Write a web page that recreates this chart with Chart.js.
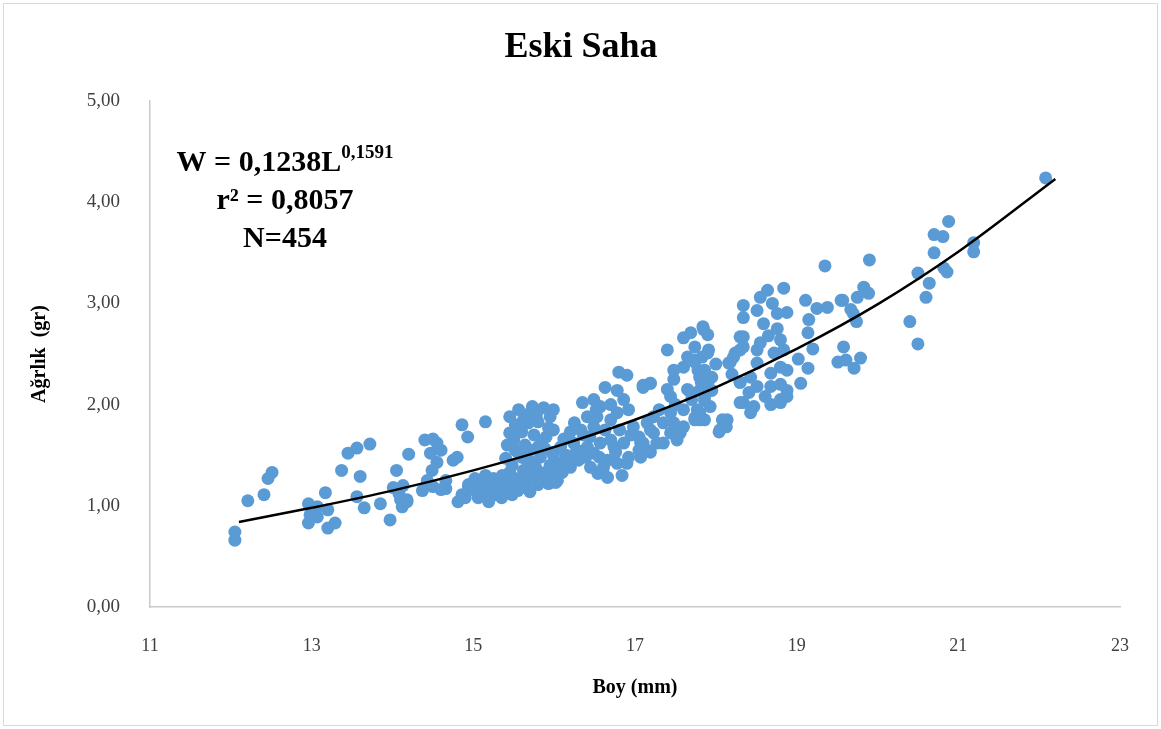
<!DOCTYPE html>
<html>
<head>
<meta charset="utf-8">
<script src="https://cdn.jsdelivr.net/npm/chart.js@4"></script>
<style>
    body { margin: 0; background: #fff; }
</style>
</head>
<body>
<canvas id="eskiChart" width="1161" height="729"></canvas>
<script>
// Boy (mm) / Ağırlık (gr) values
const boy = [
    12.05, 12.05, 12.21, 12.41, 12.46, 12.51, 12.96, 13.07, 12.98, 12.96, 13.07, 13.17, 13.20, 13.20, 13.29, 13.37,
    13.45, 13.56, 13.72, 13.60, 13.56, 13.65, 13.85, 13.97, 14.05, 14.20, 14.01, 14.10, 14.18, 14.12, 14.13, 14.08,
    14.40, 14.50, 14.47, 14.60, 14.55, 14.49, 14.43, 14.50, 14.60, 14.66, 14.75,
    14.80, 14.86, 14.93, 15.15, 14.86, 14.94, 14.37, 14.55, 14.66, 14.18,
    14.94, 14.86, 15.02, 15.11, 15.19, 15.27, 15.36, 15.40, 15.48, 15.56, 15.60, 15.73, 15.80, 15.89,
    15.98, 16.02, 16.10, 14.90, 15.06, 15.19, 15.00, 14.81, 15.06, 15.14, 15.22, 15.30, 15.33, 15.44,
    15.52, 15.66, 15.70, 15.84, 15.93, 15.25, 15.15, 15.45, 15.62, 15.77, 15.95, 15.10, 15.35, 15.55,
    15.56, 15.73, 15.87, 15.52, 15.60, 15.80, 15.93, 15.42, 15.64, 15.85, 15.40, 15.60, 15.89, 15.99,
    15.73, 15.98, 16.10, 15.65, 15.50, 15.75, 15.48, 15.55, 15.70, 15.83, 15.95, 15.62, 15.45,
    15.45, 15.58, 15.68, 15.78, 15.90, 15.52, 15.66, 15.80,
    15.99, 16.80, 16.90, 17.10, 17.19, 16.63, 16.78, 16.35, 16.49, 16.57, 16.86, 16.92, 16.41, 16.53,
    16.70, 16.78, 16.33, 16.49, 16.63, 16.81, 15.99, 16.20, 16.98, 17.19, 17.07, 17.19, 17.27, 16.86,
    16.74, 16.57, 16.41, 16.24, 16.08, 15.99, 16.19, 16.39, 16.56, 16.76, 16.92, 17.07, 16.04, 16.20,
    16.45, 16.61, 16.78, 16.54, 16.04, 16.60, 16.90, 16.49, 16.30, 16.15, 16.70, 16.95, 16.25, 16.66,
    16.12, 16.28, 16.44, 16.66, 16.84, 16.36, 16.52, 16.70,
    17.84, 17.90, 17.60, 17.69, 17.40, 18.30, 18.34, 18.24, 18.18, 17.90, 17.65, 17.74, 17.60, 17.78,
    17.48, 17.48, 17.19, 17.10, 17.40, 17.44, 17.65, 17.82, 17.95, 17.87, 17.69, 18.30, 18.34, 17.93,
    17.77, 17.60, 17.44, 17.23, 17.15, 17.35, 17.48, 17.74, 17.80, 17.60, 17.05, 17.23, 17.44, 17.56,
    17.10, 17.35, 17.52, 17.15, 17.05, 18.08, 18.13, 18.04, 17.86, 18.00, 17.30, 17.50, 17.70, 18.20,
    19.83, 19.75, 19.55, 19.38, 19.11, 19.15, 19.14, 19.14, 19.05, 19.58, 19.51, 19.61, 19.71, 19.79, 19.67,
    18.84, 18.64, 18.55, 18.34, 18.34, 18.51, 18.70, 18.76, 18.88, 18.59, 18.76, 18.65, 18.55, 18.34,
    18.80, 18.84, 18.72, 18.51, 18.30, 18.22, 18.16, 18.51, 18.80, 18.88, 18.43, 18.68, 18.30, 18.51,
    18.68, 18.80, 18.88, 18.41, 18.61, 18.80, 18.88, 18.30, 18.47, 18.68, 18.80, 18.43, 18.14, 18.05,
    17.85, 17.74, 17.83, 17.91, 17.74, 17.86, 17.80, 17.91, 17.80, 17.95, 17.86, 17.80, 17.86, 17.74,
    22.08, 20.88, 20.70, 20.81, 20.70, 21.19, 21.19, 20.50, 20.82, 20.86, 20.64, 20.60, 20.40, 20.50,
    19.90, 19.89, 19.57, 19.70, 19.74, 19.35, 19.20, 19.02, 19.25
];
const agirlik = [
    0.74, 0.66, 1.05, 1.11, 1.27, 1.33, 1.02, 0.99, 0.91, 0.83, 0.89, 1.13, 0.96, 0.78, 0.83, 1.35,
    1.52, 1.57, 1.61, 1.29, 1.09, 0.98, 1.02, 0.86, 1.35, 1.51, 1.18, 1.06, 1.04, 0.99, 1.20, 1.12,
    1.65, 1.66, 1.52, 1.55, 1.43, 1.35, 1.25, 1.19, 1.16, 1.25, 1.45,
    1.48, 1.80, 1.68, 1.83, 1.08, 1.19, 1.15, 1.62, 1.17, 1.06,
    1.21, 1.11, 1.27, 1.18, 1.24, 1.11, 1.30, 1.18, 1.11, 1.27, 1.18, 1.30, 1.21, 1.33,
    1.27, 1.23, 1.33, 1.08, 1.08, 1.04, 1.16, 1.04, 1.14, 1.10, 1.15, 1.20, 1.13, 1.24,
    1.20, 1.24, 1.14, 1.28, 1.22, 1.27, 1.30, 1.33, 1.35, 1.38, 1.40, 1.22, 1.08, 1.15,
    1.95, 1.98, 1.97, 1.80, 1.73, 1.83, 1.77, 1.60, 1.60, 1.63, 1.47, 1.48, 1.56, 1.50,
    1.43, 1.40, 1.43, 1.90, 1.65, 1.70, 1.40, 1.53, 1.55, 1.48, 1.88, 1.85, 1.72,
    1.88, 1.75, 1.82, 1.90, 1.68, 1.55, 1.45, 1.58,
    1.95, 2.32, 2.29, 2.19, 2.21, 2.17, 2.14, 2.02, 2.05, 1.98, 2.05, 1.95, 1.88, 1.88,
    1.85, 1.92, 1.75, 1.78, 1.75, 1.75, 1.75, 1.73, 1.78, 1.75, 1.62, 1.53, 1.62, 1.62,
    1.58, 1.62, 1.58, 1.62, 1.58, 1.53, 1.48, 1.48, 1.48, 1.53, 1.48, 1.48, 1.35, 1.38,
    1.38, 1.38, 1.42, 1.32, 1.25, 1.35, 1.42, 1.52, 1.45, 1.50, 1.65, 1.70, 1.82, 1.28,
    1.66, 1.55, 1.68, 1.45, 1.30, 1.70, 1.95, 2.00,
    2.77, 2.69, 2.66, 2.71, 2.54, 2.67, 2.57, 2.51, 2.42, 2.51, 2.47, 2.44, 2.37, 2.34,
    2.34, 2.25, 2.21, 2.17, 2.15, 2.08, 2.15, 2.22, 2.27, 2.15, 2.12, 2.22, 2.02, 1.98,
    1.95, 1.95, 1.92, 1.88, 1.82, 1.82, 1.82, 1.87, 1.85, 1.78, 1.68, 1.72, 1.72, 1.72,
    1.62, 1.62, 1.65, 1.55, 1.55, 1.85, 1.78, 1.73, 2.08, 2.40, 1.95, 2.00, 2.05, 2.30,
    3.16, 3.06, 3.03, 2.96, 3.03, 2.84, 2.71, 2.36, 2.21, 2.57, 2.42, 2.44, 2.36, 2.46, 2.94,
    3.15, 3.13, 3.06, 2.98, 2.86, 2.93, 3.00, 2.90, 2.91, 2.80, 2.75, 2.68, 2.61, 2.67,
    2.64, 2.54, 2.51, 2.54, 2.54, 2.47, 2.41, 2.41, 2.37, 2.34, 2.27, 2.31, 2.22, 2.18,
    2.18, 2.20, 2.14, 2.12, 2.08, 2.05, 2.08, 2.02, 1.98, 2.00, 2.02, 1.92, 1.85, 1.75,
    2.74, 2.57, 2.47, 2.54, 2.42, 2.34, 2.27, 2.24, 2.14, 2.14, 2.04, 1.92, 1.85, 1.85,
    4.24, 3.81, 3.68, 3.66, 3.50, 3.60, 3.51, 3.30, 3.35, 3.31, 3.20, 3.06, 2.82, 2.60,
    3.43, 3.10, 3.03, 2.90, 2.82, 3.37, 2.55, 2.45, 2.95
];

// trend line
const trendBoy = [12.1, 13, 14, 15, 16, 17, 18, 19, 20, 21, 22.2];
const trendAgirlik = [0.84, 0.98, 1.15, 1.35, 1.58, 1.85, 2.17, 2.55, 2.99, 3.51, 4.23];

const xTicks = [11, 13, 15, 17, 19, 21, 23];
const yTicks = [0, 1, 2, 3, 4, 5];

const points = boy.map((b, i) => ({ x: b, y: agirlik[i] }));
const trend = trendBoy.map((b, i) => ({ x: b, y: trendAgirlik[i] }));

const serif = '"Liberation Serif", "Times New Roman", serif';

// dış çerçeve, başlık ve denklem
const extras = {
    id: 'extras',
    beforeDraw(chart) {
        const c = chart.ctx;
        c.save();
        c.fillStyle = '#fff';
        c.fillRect(0, 0, chart.width, chart.height);
        c.strokeStyle = '#d9d9d9';
        c.lineWidth = 1;
        c.strokeRect(3.5, 3.5, 1154, 722);
        c.restore();
    },
    afterDraw(chart) {
        const c = chart.ctx;
        c.save();
        c.fillStyle = '#000';
        c.textBaseline = 'middle';
        c.textAlign = 'center';
        c.font = 'bold 36px ' + serif;
        c.fillText('Eski Saha', 581, 48);

        const cx = 285;
        c.textBaseline = 'alphabetic';
        c.font = 'bold 30px ' + serif;
        const main = 'W = 0,1238L';
        const wMain = c.measureText(main).width;
        c.font = 'bold 19px ' + serif;
        const sup = '0,1591';
        const wSup = c.measureText(sup).width;
        const x0 = cx - (wMain + wSup) / 2;
        c.textAlign = 'left';
        c.font = 'bold 30px ' + serif;
        c.fillText(main, x0, 171);
        c.font = 'bold 19px ' + serif;
        c.fillText(sup, x0 + wMain, 158);

        c.textAlign = 'center';
        c.font = 'bold 30px ' + serif;
        c.fillText('r² = 0,8057', cx, 209);
        c.fillText('N=454', cx, 247);
        c.restore();
    }
};

const ctx = document.getElementById('eskiChart').getContext('2d');
new Chart(ctx, {
    type: 'scatter',
    data: {
        datasets: [{
            type: 'line',
            label: 'Trend',
            data: trend,
            borderColor: '#000',
            borderWidth: 2.5,
            pointRadius: 0,
            fill: false,
            cubicInterpolationMode: 'monotone'
        }, {
            label: 'Eski Saha',
            data: points,
            backgroundColor: '#5b9bd5',
            borderColor: '#5b9bd5',
            borderWidth: 0,
            pointRadius: 6.5
        }]
    },
    options: {
        responsive: false,
        animation: false,
        layout: {
            padding: { top: 101, left: 0, right: 41, bottom: 0 }
        },
        scales: {
            x: {
                type: 'linear',
                min: 11,
                max: 23,
                afterBuildTicks: (scale) => { scale.ticks = xTicks.map(v => ({ value: v })); },
                afterFit: (scale) => { scale.height = 122; },
                grid: { display: false },
                border: { display: true, color: '#c9c9c9', width: 1.5 },
                ticks: {
                    padding: 20,
                    color: '#404040',
                    font: { family: serif, size: 18 }
                },
                title: {
                    display: true,
                    text: 'Boy (mm)',
                    color: '#000',
                    padding: { top: 0, bottom: 29 },
                    font: { family: serif, size: 20, weight: 'bold' }
                }
            },
            y: {
                min: 0,
                max: 5,
                afterBuildTicks: (scale) => { scale.ticks = yTicks.map(v => ({ value: v })); },
                afterFit: (scale) => { scale.width = 150; },
                grid: { display: false },
                border: { display: true, color: '#c9c9c9', width: 1.5 },
                ticks: {
                    padding: 22,
                    color: '#404040',
                    font: { family: serif, size: 19 },
                    callback: (v) => v.toFixed(2).replace('.', ',')
                },
                title: {
                    display: true,
                    text: 'Ağrlık  (gr)',
                    color: '#000',
                    padding: { top: 28, bottom: 0 },
                    font: { family: serif, size: 20, weight: 'bold' }
                }
            }
        },
        plugins: {
            legend: { display: false },
            tooltip: { enabled: false },
            title: { display: false }
        }
    },
    plugins: [extras]
});
</script>
</body>
</html>
